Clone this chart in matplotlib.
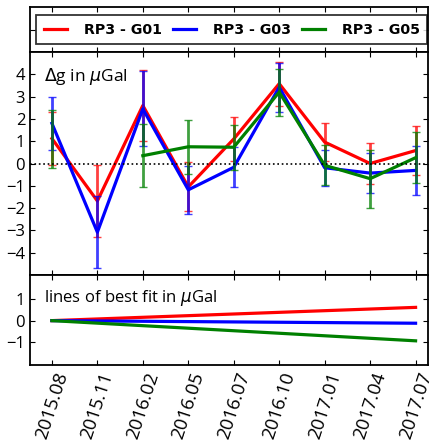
import numpy as np
import matplotlib
matplotlib.use('Agg')
import matplotlib.pyplot as plt

epochs = ['2015.08', '2015.11', '2016.02', '2016.05', '2016.07',
          '2016.10', '2017.01', '2017.04', '2017.07']

# differences in uGal and their errors
g01 = [1.12, -1.68, 2.60, -1.05, 1.10, 3.58, 0.96, 0.00, 0.58]
g01_err = [1.20, 1.62, 1.60, 1.10, 1.00, 0.98, 0.85, 0.90, 1.08]
g03 = [1.80, -3.08, 2.45, -1.18, -0.17, 3.42, -0.19, -0.43, -0.31]
g03_err = [1.20, 1.62, 1.68, 1.08, 0.90, 1.10, 0.80, 0.90, 1.10]
g05 = [1.12, np.nan, 0.35, 0.75, 0.73, 3.20, -0.08, -0.68, 0.26]
g05_err = [1.30, np.nan, 1.40, 1.20, 1.00, 1.05, 0.90, 1.30, 1.15]

# best fit lines, first and last epoch
fit_g01 = [0.0, 0.61]
fit_g03 = [0.0, -0.12]
fit_g05 = [0.0, -0.93]

labels = ['RP3 - G01', 'RP3 - G03', 'RP3 - G05']
colors = ['red', 'blue', 'green']

plt.rcParams['font.family'] = ['Open Sans', 'DejaVu Sans']
plt.rcParams['mathtext.fontset'] = 'dejavusans'
plt.rcParams['xtick.direction'] = 'in'
plt.rcParams['ytick.direction'] = 'in'
plt.rcParams['xtick.top'] = True
plt.rcParams['ytick.right'] = True
plt.rcParams['axes.linewidth'] = 1.3

fig = plt.figure(figsize=(4.30, 4.41), dpi=100)
ax0 = fig.add_axes([0.07, 0.882, 0.925, 0.102])
ax1 = fig.add_axes([0.07, 0.3764, 0.925, 0.5057])
ax2 = fig.add_axes([0.07, 0.172, 0.925, 0.2044])

x = np.arange(len(epochs))
xl = (-0.48, 8.27)

handles = []
for vals, errs, c, lab in zip([g01, g03, g05], [g01_err, g03_err, g05_err], colors, labels):
    ax1.errorbar(x, vals, yerr=errs, color=c, ecolor=c, elinewidth=2,
                 capsize=3, capthick=1, lw=0, alpha=0.75)
    h, = ax1.plot(x, vals, color=c, lw=2.3, label=lab)
    handles.append(h)
ax1.axhline(0, color='k', ls=':', lw=1.2)
ax1.set_xlim(xl)
ax1.set_ylim(-5, 5)
ax1.set_yticks(range(-4, 5))
ax1.set_xticks(x)
ax1.set_xticklabels([])
ax1.tick_params(labelsize=12, labelright=False)
ax1.text(0.035, 0.935, r'$\Delta$g in $\mu$Gal', transform=ax1.transAxes,
         fontsize=12.5, va='top', ha='left')

for fv, c in zip([fit_g01, fit_g03, fit_g05], colors):
    ax2.plot([x[0], x[-1]], fv, color=c, lw=2.3)
ax2.set_xlim(xl)
ax2.set_ylim(-2.05, 2.1)
ax2.set_yticks([-1, 0, 1])
ax2.set_xticks(x)
ax2.set_xticklabels(epochs, rotation=72, fontsize=13.5)
ax2.tick_params(axis='y', labelsize=12)
ax2.text(0.035, 0.86, r'lines of best fit in $\mu$Gal', transform=ax2.transAxes,
         fontsize=12, va='top', ha='left')

ax0.set_xlim(xl)
ax0.set_ylim(0, 1)
ax0.set_xticks(x)
ax0.set_yticks([0.5])
ax0.set_xticklabels([])
ax0.set_yticklabels([])
leg = ax0.legend(handles=handles, loc='center left', bbox_to_anchor=(0.015, 0.5),
                 ncol=3, frameon=True, fancybox=False, handlelength=1.6,
                 handletextpad=1.2, columnspacing=0.8, borderaxespad=0,
                 borderpad=0.55,
                 prop={'family': 'DejaVu Sans', 'weight': 'bold', 'size': 10.2})
leg.get_frame().set_edgecolor('k')
leg.get_frame().set_linewidth(1.3)
for lh in leg.get_lines():
    lh.set_linewidth(2.3)

fig.savefig('out.png', dpi=100)
